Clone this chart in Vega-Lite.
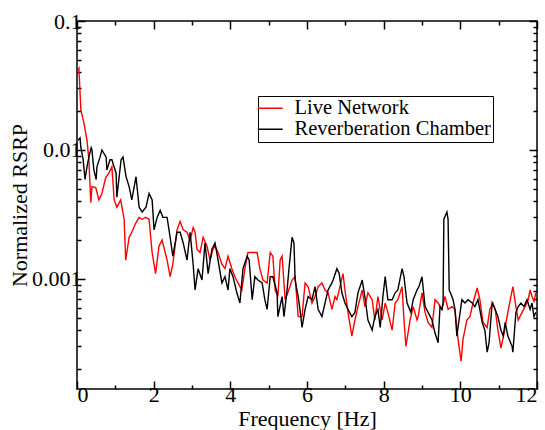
{
"$schema": "https://vega.github.io/schema/vega-lite/v6.json",
"width": 460, "height": 368,
"autosize": "none",
"padding": {"left": 77, "top": 21, "right": 8, "bottom": 41},
"background": "white",
"config": {
  "view": {"stroke": "black", "strokeWidth": 1.5},
  "axis": {"domain": false, "grid": false, "tickColor": "black", "tickWidth": 1.5, "labelFont": "Liberation Serif", "labelFontSize": 22, "labelColor": "black", "titleFont": "Liberation Serif", "titleFontSize": 22, "titleFontWeight": "normal", "titleColor": "black"}
},
"resolve": {"axis": {"x": "independent", "y": "independent"}},
"layer": [
{
  "data": {"values": [
{"s":"Live Network","f":0.03,"v":0.042},{"s":"Live Network","f":0.05,"v":0.043},{"s":"Live Network","f":0.10,"v":0.0204},{"s":"Live Network","f":0.18,"v":0.0162},{"s":"Live Network","f":0.26,"v":0.0119},{"s":"Live Network","f":0.31,"v":0.0084},{"s":"Live Network","f":0.36,"v":0.0039},{"s":"Live Network","f":0.39,"v":0.0052},{"s":"Live Network","f":0.49,"v":0.0051},{"s":"Live Network","f":0.57,"v":0.0041},{"s":"Live Network","f":0.65,"v":0.0046},{"s":"Live Network","f":0.75,"v":0.0061},{"s":"Live Network","f":0.83,"v":0.0066},{"s":"Live Network","f":0.91,"v":0.0074},{"s":"Live Network","f":0.97,"v":0.0041},{"s":"Live Network","f":1.04,"v":0.0036},{"s":"Live Network","f":1.14,"v":0.0041},{"s":"Live Network","f":1.23,"v":0.0029},{"s":"Live Network","f":1.27,"v":0.0014},{"s":"Live Network","f":1.36,"v":0.0021},{"s":"Live Network","f":1.43,"v":0.0023},{"s":"Live Network","f":1.53,"v":0.0027},{"s":"Live Network","f":1.62,"v":0.0030},{"s":"Live Network","f":1.70,"v":0.0029},{"s":"Live Network","f":1.79,"v":0.0030},{"s":"Live Network","f":1.88,"v":0.0029},{"s":"Live Network","f":1.96,"v":0.0016},{"s":"Live Network","f":2.05,"v":0.0011},{"s":"Live Network","f":2.14,"v":0.0018},{"s":"Live Network","f":2.22,"v":0.0020},{"s":"Live Network","f":2.35,"v":0.0014},{"s":"Live Network","f":2.43,"v":0.00104},{"s":"Live Network","f":2.50,"v":0.0013},{"s":"Live Network","f":2.61,"v":0.0024},{"s":"Live Network","f":2.69,"v":0.0028},{"s":"Live Network","f":2.77,"v":0.0024},{"s":"Live Network","f":2.87,"v":0.0023},{"s":"Live Network","f":2.95,"v":0.0020},{"s":"Live Network","f":3.03,"v":0.0025},{"s":"Live Network","f":3.08,"v":0.0023},{"s":"Live Network","f":3.13,"v":0.0017},{"s":"Live Network","f":3.21,"v":0.0016},{"s":"Live Network","f":3.29,"v":0.0021},{"s":"Live Network","f":3.39,"v":0.0018},{"s":"Live Network","f":3.47,"v":0.0014},{"s":"Live Network","f":3.55,"v":0.0017},{"s":"Live Network","f":3.60,"v":0.0018},{"s":"Live Network","f":3.68,"v":0.0016},{"s":"Live Network","f":3.78,"v":0.0013},{"s":"Live Network","f":3.86,"v":0.0012},{"s":"Live Network","f":3.94,"v":0.0015},{"s":"Live Network","f":4.04,"v":0.0012},{"s":"Live Network","f":4.12,"v":0.00104},{"s":"Live Network","f":4.20,"v":0.00093},{"s":"Live Network","f":4.30,"v":0.00082},{"s":"Live Network","f":4.38,"v":0.0012},{"s":"Live Network","f":4.46,"v":0.0016},{"s":"Live Network","f":4.51,"v":0.0016},{"s":"Live Network","f":4.59,"v":0.0016},{"s":"Live Network","f":4.70,"v":0.0016},{"s":"Live Network","f":4.77,"v":0.0012},{"s":"Live Network","f":4.85,"v":0.00098},{"s":"Live Network","f":4.96,"v":0.00093},{"s":"Live Network","f":5.04,"v":0.0016},{"s":"Live Network","f":5.11,"v":0.0015},{"s":"Live Network","f":5.17,"v":0.00082},{"s":"Live Network","f":5.24,"v":0.00073},{"s":"Live Network","f":5.30,"v":0.0014},{"s":"Live Network","f":5.35,"v":0.0015},{"s":"Live Network","f":5.43,"v":0.00069},{"s":"Live Network","f":5.50,"v":0.00078},{"s":"Live Network","f":5.61,"v":0.00098},{"s":"Live Network","f":5.69,"v":0.00104},{"s":"Live Network","f":5.77,"v":0.00051},{"s":"Live Network","f":5.87,"v":0.00051},{"s":"Live Network","f":5.95,"v":0.00093},{"s":"Live Network","f":6.03,"v":0.00087},{"s":"Live Network","f":6.13,"v":0.00065},{"s":"Live Network","f":6.21,"v":0.00073},{"s":"Live Network","f":6.29,"v":0.00087},{"s":"Live Network","f":6.39,"v":0.00093},{"s":"Live Network","f":6.47,"v":0.00082},{"s":"Live Network","f":6.55,"v":0.00078},{"s":"Live Network","f":6.65,"v":0.00058},{"s":"Live Network","f":6.73,"v":0.00073},{"s":"Live Network","f":6.78,"v":0.00069},{"s":"Live Network","f":6.86,"v":0.00087},{"s":"Live Network","f":6.94,"v":0.0011},{"s":"Live Network","f":6.99,"v":0.00082},{"s":"Live Network","f":7.07,"v":0.00055},{"s":"Live Network","f":7.17,"v":0.00036},{"s":"Live Network","f":7.25,"v":0.00048},{"s":"Live Network","f":7.33,"v":0.00061},{"s":"Live Network","f":7.44,"v":0.00082},{"s":"Live Network","f":7.51,"v":0.00061},{"s":"Live Network","f":7.59,"v":0.00078},{"s":"Live Network","f":7.70,"v":0.00069},{"s":"Live Network","f":7.77,"v":0.00048},{"s":"Live Network","f":7.85,"v":0.00073},{"s":"Live Network","f":7.96,"v":0.00048},{"s":"Live Network","f":8.04,"v":0.00065},{"s":"Live Network","f":8.11,"v":0.00055},{"s":"Live Network","f":8.22,"v":0.00040},{"s":"Live Network","f":8.30,"v":0.00065},{"s":"Live Network","f":8.37,"v":0.00069},{"s":"Live Network","f":8.48,"v":0.00087},{"s":"Live Network","f":8.53,"v":0.00048},{"s":"Live Network","f":8.58,"v":0.00030},{"s":"Live Network","f":8.69,"v":0.00048},{"s":"Live Network","f":8.77,"v":0.00061},{"s":"Live Network","f":8.87,"v":0.00048},{"s":"Live Network","f":8.90,"v":0.00051},{"s":"Live Network","f":9.00,"v":0.00078},{"s":"Live Network","f":9.08,"v":0.00055},{"s":"Live Network","f":9.16,"v":0.00046},{"s":"Live Network","f":9.26,"v":0.00042},{"s":"Live Network","f":9.34,"v":0.00069},{"s":"Live Network","f":9.42,"v":0.00065},{"s":"Live Network","f":9.52,"v":0.00058},{"s":"Live Network","f":9.60,"v":0.00073},{"s":"Live Network","f":9.68,"v":0.00058},{"s":"Live Network","f":9.78,"v":0.00061},{"s":"Live Network","f":9.86,"v":0.00058},{"s":"Live Network","f":9.94,"v":0.00034},{"s":"Live Network","f":10.02,"v":0.00023},{"s":"Live Network","f":10.07,"v":0.00034},{"s":"Live Network","f":10.17,"v":0.00048},{"s":"Live Network","f":10.25,"v":0.00051},{"s":"Live Network","f":10.33,"v":0.00065},{"s":"Live Network","f":10.44,"v":0.00085},{"s":"Live Network","f":10.51,"v":0.00069},{"s":"Live Network","f":10.59,"v":0.00046},{"s":"Live Network","f":10.70,"v":0.00042},{"s":"Live Network","f":10.77,"v":0.00058},{"s":"Live Network","f":10.85,"v":0.00065},{"s":"Live Network","f":10.91,"v":0.00058},{"s":"Live Network","f":10.98,"v":0.00040},{"s":"Live Network","f":11.06,"v":0.00029},{"s":"Live Network","f":11.14,"v":0.00038},{"s":"Live Network","f":11.24,"v":0.00055},{"s":"Live Network","f":11.32,"v":0.00073},{"s":"Live Network","f":11.37,"v":0.00087},{"s":"Live Network","f":11.45,"v":0.00061},{"s":"Live Network","f":11.51,"v":0.00048},{"s":"Live Network","f":11.61,"v":0.00055},{"s":"Live Network","f":11.69,"v":0.00061},{"s":"Live Network","f":11.77,"v":0.00069},{"s":"Live Network","f":11.82,"v":0.00082},{"s":"Live Network","f":11.87,"v":0.00073},{"s":"Live Network","f":11.92,"v":0.00067},{"s":"Live Network","f":11.97,"v":0.00078},
{"s":"Reverberation Chamber","f":0.03,"v":0.0119},{"s":"Reverberation Chamber","f":0.08,"v":0.0124},{"s":"Reverberation Chamber","f":0.10,"v":0.0105},{"s":"Reverberation Chamber","f":0.16,"v":0.0084},{"s":"Reverberation Chamber","f":0.21,"v":0.0059},{"s":"Reverberation Chamber","f":0.26,"v":0.0074},{"s":"Reverberation Chamber","f":0.31,"v":0.0088},{"s":"Reverberation Chamber","f":0.37,"v":0.0104},{"s":"Reverberation Chamber","f":0.39,"v":0.0100},{"s":"Reverberation Chamber","f":0.44,"v":0.0070},{"s":"Reverberation Chamber","f":0.50,"v":0.0059},{"s":"Reverberation Chamber","f":0.52,"v":0.0074},{"s":"Reverberation Chamber","f":0.60,"v":0.0088},{"s":"Reverberation Chamber","f":0.65,"v":0.0100},{"s":"Reverberation Chamber","f":0.76,"v":0.0088},{"s":"Reverberation Chamber","f":0.78,"v":0.0070},{"s":"Reverberation Chamber","f":0.86,"v":0.0084},{"s":"Reverberation Chamber","f":0.91,"v":0.0084},{"s":"Reverberation Chamber","f":1.02,"v":0.0066},{"s":"Reverberation Chamber","f":1.04,"v":0.0043},{"s":"Reverberation Chamber","f":1.15,"v":0.0084},{"s":"Reverberation Chamber","f":1.20,"v":0.0088},{"s":"Reverberation Chamber","f":1.28,"v":0.0062},{"s":"Reverberation Chamber","f":1.36,"v":0.0052},{"s":"Reverberation Chamber","f":1.43,"v":0.0041},{"s":"Reverberation Chamber","f":1.54,"v":0.0062},{"s":"Reverberation Chamber","f":1.62,"v":0.0036},{"s":"Reverberation Chamber","f":1.70,"v":0.0033},{"s":"Reverberation Chamber","f":1.80,"v":0.0036},{"s":"Reverberation Chamber","f":1.88,"v":0.0046},{"s":"Reverberation Chamber","f":1.96,"v":0.0041},{"s":"Reverberation Chamber","f":2.01,"v":0.0024},{"s":"Reverberation Chamber","f":2.09,"v":0.0030},{"s":"Reverberation Chamber","f":2.17,"v":0.0034},{"s":"Reverberation Chamber","f":2.24,"v":0.0030},{"s":"Reverberation Chamber","f":2.35,"v":0.0030},{"s":"Reverberation Chamber","f":2.43,"v":0.0021},{"s":"Reverberation Chamber","f":2.50,"v":0.0015},{"s":"Reverberation Chamber","f":2.61,"v":0.0023},{"s":"Reverberation Chamber","f":2.69,"v":0.0023},{"s":"Reverberation Chamber","f":2.77,"v":0.0019},{"s":"Reverberation Chamber","f":2.87,"v":0.0014},{"s":"Reverberation Chamber","f":2.95,"v":0.0023},{"s":"Reverberation Chamber","f":3.03,"v":0.0013},{"s":"Reverberation Chamber","f":3.08,"v":0.00082},{"s":"Reverberation Chamber","f":3.16,"v":0.0012},{"s":"Reverberation Chamber","f":3.26,"v":0.00098},{"s":"Reverberation Chamber","f":3.34,"v":0.0019},{"s":"Reverberation Chamber","f":3.42,"v":0.0011},{"s":"Reverberation Chamber","f":3.52,"v":0.0017},{"s":"Reverberation Chamber","f":3.60,"v":0.0019},{"s":"Reverberation Chamber","f":3.68,"v":0.0014},{"s":"Reverberation Chamber","f":3.78,"v":0.00093},{"s":"Reverberation Chamber","f":3.86,"v":0.00104},{"s":"Reverberation Chamber","f":3.94,"v":0.00082},{"s":"Reverberation Chamber","f":3.99,"v":0.0012},{"s":"Reverberation Chamber","f":4.07,"v":0.00104},{"s":"Reverberation Chamber","f":4.17,"v":0.00078},{"s":"Reverberation Chamber","f":4.25,"v":0.00065},{"s":"Reverberation Chamber","f":4.33,"v":0.0012},{"s":"Reverberation Chamber","f":4.44,"v":0.0015},{"s":"Reverberation Chamber","f":4.49,"v":0.0014},{"s":"Reverberation Chamber","f":4.57,"v":0.00069},{"s":"Reverberation Chamber","f":4.64,"v":0.00104},{"s":"Reverberation Chamber","f":4.72,"v":0.00098},{"s":"Reverberation Chamber","f":4.83,"v":0.00093},{"s":"Reverberation Chamber","f":4.90,"v":0.00069},{"s":"Reverberation Chamber","f":4.96,"v":0.00058},{"s":"Reverberation Chamber","f":5.04,"v":0.00104},{"s":"Reverberation Chamber","f":5.11,"v":0.00104},{"s":"Reverberation Chamber","f":5.22,"v":0.00078},{"s":"Reverberation Chamber","f":5.24,"v":0.00051},{"s":"Reverberation Chamber","f":5.35,"v":0.00073},{"s":"Reverberation Chamber","f":5.40,"v":0.00051},{"s":"Reverberation Chamber","f":5.48,"v":0.00082},{"s":"Reverberation Chamber","f":5.53,"v":0.0012},{"s":"Reverberation Chamber","f":5.61,"v":0.0021},{"s":"Reverberation Chamber","f":5.66,"v":0.0019},{"s":"Reverberation Chamber","f":5.69,"v":0.00098},{"s":"Reverberation Chamber","f":5.77,"v":0.00073},{"s":"Reverberation Chamber","f":5.84,"v":0.00051},{"s":"Reverberation Chamber","f":5.87,"v":0.00042},{"s":"Reverberation Chamber","f":5.95,"v":0.00058},{"s":"Reverberation Chamber","f":6.03,"v":0.00073},{"s":"Reverberation Chamber","f":6.13,"v":0.00069},{"s":"Reverberation Chamber","f":6.21,"v":0.00087},{"s":"Reverberation Chamber","f":6.29,"v":0.00058},{"s":"Reverberation Chamber","f":6.39,"v":0.00051},{"s":"Reverberation Chamber","f":6.47,"v":0.00065},{"s":"Reverberation Chamber","f":6.55,"v":0.00082},{"s":"Reverberation Chamber","f":6.65,"v":0.00093},{"s":"Reverberation Chamber","f":6.68,"v":0.00098},{"s":"Reverberation Chamber","f":6.78,"v":0.0012},{"s":"Reverberation Chamber","f":6.84,"v":0.0011},{"s":"Reverberation Chamber","f":6.91,"v":0.00078},{"s":"Reverberation Chamber","f":6.99,"v":0.00065},{"s":"Reverberation Chamber","f":7.07,"v":0.00058},{"s":"Reverberation Chamber","f":7.17,"v":0.00051},{"s":"Reverberation Chamber","f":7.25,"v":0.00055},{"s":"Reverberation Chamber","f":7.33,"v":0.00078},{"s":"Reverberation Chamber","f":7.44,"v":0.00098},{"s":"Reverberation Chamber","f":7.51,"v":0.00073},{"s":"Reverberation Chamber","f":7.59,"v":0.00048},{"s":"Reverberation Chamber","f":7.70,"v":0.00040},{"s":"Reverberation Chamber","f":7.77,"v":0.00051},{"s":"Reverberation Chamber","f":7.85,"v":0.00058},{"s":"Reverberation Chamber","f":7.91,"v":0.00042},{"s":"Reverberation Chamber","f":7.98,"v":0.00073},{"s":"Reverberation Chamber","f":8.04,"v":0.00104},{"s":"Reverberation Chamber","f":8.11,"v":0.00069},{"s":"Reverberation Chamber","f":8.22,"v":0.00069},{"s":"Reverberation Chamber","f":8.30,"v":0.00078},{"s":"Reverberation Chamber","f":8.37,"v":0.00082},{"s":"Reverberation Chamber","f":8.48,"v":0.0012},{"s":"Reverberation Chamber","f":8.53,"v":0.00104},{"s":"Reverberation Chamber","f":8.61,"v":0.00065},{"s":"Reverberation Chamber","f":8.71,"v":0.00055},{"s":"Reverberation Chamber","f":8.77,"v":0.00069},{"s":"Reverberation Chamber","f":8.87,"v":0.00082},{"s":"Reverberation Chamber","f":8.92,"v":0.00087},{"s":"Reverberation Chamber","f":9.00,"v":0.00104},{"s":"Reverberation Chamber","f":9.08,"v":0.00061},{"s":"Reverberation Chamber","f":9.16,"v":0.00055},{"s":"Reverberation Chamber","f":9.26,"v":0.00048},{"s":"Reverberation Chamber","f":9.34,"v":0.00038},{"s":"Reverberation Chamber","f":9.42,"v":0.00032},{"s":"Reverberation Chamber","f":9.47,"v":0.00061},{"s":"Reverberation Chamber","f":9.52,"v":0.00058},{"s":"Reverberation Chamber","f":9.55,"v":0.00065},{"s":"Reverberation Chamber","f":9.57,"v":0.0029},{"s":"Reverberation Chamber","f":9.65,"v":0.0033},{"s":"Reverberation Chamber","f":9.68,"v":0.0029},{"s":"Reverberation Chamber","f":9.71,"v":0.00082},{"s":"Reverberation Chamber","f":9.78,"v":0.00073},{"s":"Reverberation Chamber","f":9.81,"v":0.00069},{"s":"Reverberation Chamber","f":9.86,"v":0.00058},{"s":"Reverberation Chamber","f":9.91,"v":0.00036},{"s":"Reverberation Chamber","f":9.94,"v":0.00042},{"s":"Reverberation Chamber","f":10.04,"v":0.00069},{"s":"Reverberation Chamber","f":10.12,"v":0.00065},{"s":"Reverberation Chamber","f":10.20,"v":0.00069},{"s":"Reverberation Chamber","f":10.31,"v":0.00065},{"s":"Reverberation Chamber","f":10.38,"v":0.00061},{"s":"Reverberation Chamber","f":10.46,"v":0.00069},{"s":"Reverberation Chamber","f":10.57,"v":0.00046},{"s":"Reverberation Chamber","f":10.64,"v":0.00040},{"s":"Reverberation Chamber","f":10.70,"v":0.00027},{"s":"Reverberation Chamber","f":10.75,"v":0.00032},{"s":"Reverberation Chamber","f":10.83,"v":0.00065},{"s":"Reverberation Chamber","f":10.91,"v":0.00058},{"s":"Reverberation Chamber","f":10.98,"v":0.00051},{"s":"Reverberation Chamber","f":11.06,"v":0.00040},{"s":"Reverberation Chamber","f":11.12,"v":0.00036},{"s":"Reverberation Chamber","f":11.17,"v":0.00046},{"s":"Reverberation Chamber","f":11.24,"v":0.00036},{"s":"Reverberation Chamber","f":11.35,"v":0.00030},{"s":"Reverberation Chamber","f":11.37,"v":0.00027},{"s":"Reverberation Chamber","f":11.45,"v":0.00055},{"s":"Reverberation Chamber","f":11.51,"v":0.00061},{"s":"Reverberation Chamber","f":11.58,"v":0.00065},{"s":"Reverberation Chamber","f":11.66,"v":0.00061},{"s":"Reverberation Chamber","f":11.74,"v":0.00069},{"s":"Reverberation Chamber","f":11.82,"v":0.00058},{"s":"Reverberation Chamber","f":11.87,"v":0.00065},{"s":"Reverberation Chamber","f":11.92,"v":0.00051},{"s":"Reverberation Chamber","f":11.97,"v":0.00055}
  ]},
  "mark": {"type": "line", "strokeWidth": 1.4, "clip": true},
  "encoding": {
    "x": {"field": "f", "type": "quantitative", "scale": {"domain": [0, 12], "nice": false, "zero": false},
          "axis": {"orient": "bottom", "values": [0, 2, 4, 6, 8, 10, 12], "tickSize": -8, "labelPadding": 3, "format": "d", "title": "Frequency [Hz]", "titlePadding": 3, "labelFont": "Liberation Serif", "labelFontSize": 22, "titleFont": "Liberation Serif", "titleFontSize": 22}},
    "y": {"field": "v", "type": "quantitative", "scale": {"type": "log", "domain": [0.00014, 0.1], "nice": false},
          "axis": {"orient": "left", "values": [0.001, 0.01, 0.1], "tickSize": -8, "labelPadding": 4, "format": "~g", "title": "Normalized RSRP", "titlePadding": 0, "labelFont": "Liberation Serif", "labelFontSize": 22, "titleFont": "Liberation Serif", "titleFontSize": 22}},
    "color": {"field": "s", "type": "nominal",
              "scale": {"domain": ["Live Network", "Reverberation Chamber"], "range": ["#ff0000", "#000000"]},
              "legend": {"orient": "none", "legendX": 181, "legendY": 75, "title": null, "strokeColor": "black", "fillColor": "white", "padding": 2, "cornerRadius": 0, "labelFont": "Liberation Serif", "labelFontSize": 20.5, "labelColor": "black", "labelLimit": 0, "symbolType": "M-1.55,0H1.55", "symbolSize": 256, "symbolStrokeWidth": 1.5, "labelOffset": 14, "rowPadding": -1}}
  }
},
{
  "data": {"values": [{"f": 0, "v": 0.001}]},
  "mark": {"type": "point", "opacity": 0},
  "encoding": {
    "x": {"field": "f", "type": "quantitative", "scale": {"domain": [0, 12], "nice": false, "zero": false},
          "axis": {"orient": "bottom", "values": [1, 3, 5, 7, 9, 11], "tickSize": -4, "labels": false, "title": null}},
    "y": {"field": "v", "type": "quantitative", "scale": {"type": "log", "domain": [0.00014, 0.1], "nice": false},
          "axis": {"orient": "left", "values": [0.0002, 0.0003, 0.0004, 0.0005, 0.0006, 0.0007, 0.0008, 0.0009, 0.002, 0.003, 0.004, 0.005, 0.006, 0.007, 0.008, 0.009, 0.02, 0.03, 0.04, 0.05, 0.06, 0.07, 0.08, 0.09], "tickSize": -4, "labels": false, "title": null}}
  }
},
{
  "data": {"values": [{"f": 0, "v": 0.001}]},
  "mark": {"type": "point", "opacity": 0},
  "encoding": {
    "x": {"field": "f", "type": "quantitative", "scale": {"domain": [0, 12], "nice": false, "zero": false},
          "axis": {"orient": "top", "values": [0, 2, 4, 6, 8, 10, 12], "tickSize": -8, "labels": false, "title": null}},
    "y": {"field": "v", "type": "quantitative", "scale": {"type": "log", "domain": [0.00014, 0.1], "nice": false},
          "axis": {"orient": "right", "values": [0.001, 0.01, 0.1], "tickSize": -8, "labels": false, "title": null}}
  }
},
{
  "data": {"values": [{"f": 0, "v": 0.001}]},
  "mark": {"type": "point", "opacity": 0},
  "encoding": {
    "x": {"field": "f", "type": "quantitative", "scale": {"domain": [0, 12], "nice": false, "zero": false},
          "axis": {"orient": "top", "values": [1, 3, 5, 7, 9, 11], "tickSize": -4, "labels": false, "title": null}},
    "y": {"field": "v", "type": "quantitative", "scale": {"type": "log", "domain": [0.00014, 0.1], "nice": false},
          "axis": {"orient": "right", "values": [0.0002, 0.0003, 0.0004, 0.0005, 0.0006, 0.0007, 0.0008, 0.0009, 0.002, 0.003, 0.004, 0.005, 0.006, 0.007, 0.008, 0.009, 0.02, 0.03, 0.04, 0.05, 0.06, 0.07, 0.08, 0.09], "tickSize": -4, "labels": false, "title": null}}
  }
}
]
}
